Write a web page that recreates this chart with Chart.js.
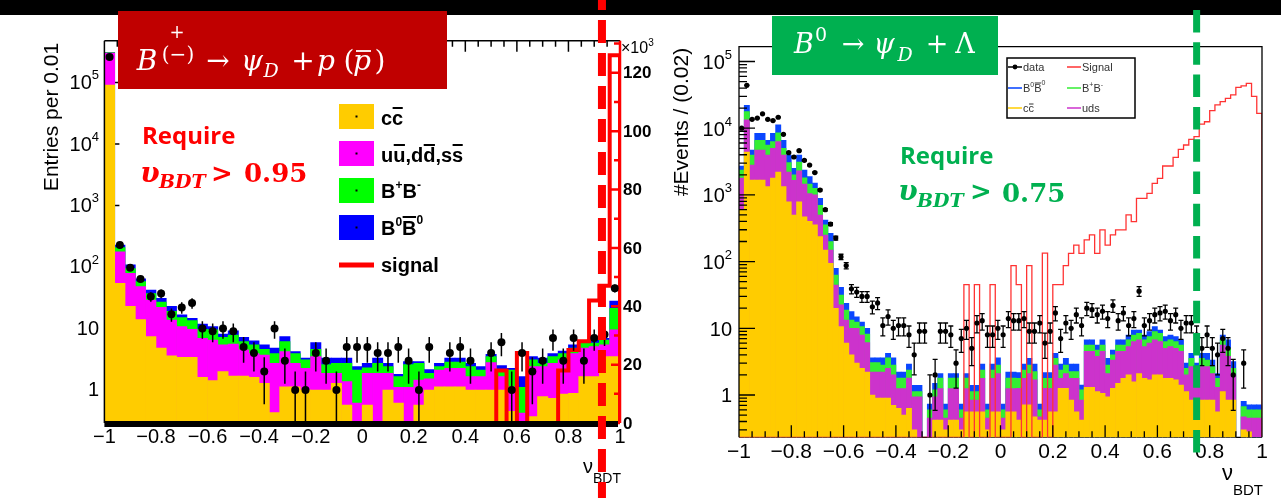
<!DOCTYPE html>
<html>
<head>
<meta charset="utf-8">
<title>BDT response</title>
<script src="https://cdn.jsdelivr.net/npm/chart.js@4.4.1/dist/chart.umd.min.js"></script>
<style>
  html, body { margin: 0; padding: 0; background: #fff; }
  body { width: 1281px; height: 498px; position: relative; overflow: hidden; }
  #topBar { position: absolute; left: 0; top: 0; width: 1281px; height: 15px; background: #000; }
  canvas { position: absolute; top: 0; }
  #leftChart { left: 0; }
  #rightChart { left: 640px; }
</style>
</head>
<body>
<div id="topBar"></div>
<canvas id="leftChart" width="660" height="498"></canvas>
<canvas id="rightChart" width="641" height="498"></canvas>
<script>
// B(-)+ -> psi_D + p : 50 bins of 0.04 in nu_BDT
// each stack array holds the upper edge of that layer (cc, +uds, +B+B-, +B0B0bar)
const leftCc = [
  91000, 54, 23, 14, 7.4, 4.8, 3.6, 3.4, 3.4, 1.6,
  1.42, 2.0, 1.69, 1.69, 1.6, 1.28, 0.43, 1.13, 1.13, 1.0,
  1.0, 1.0, 1.28, 0.57, 0, 0.57, 0, 1.0, 0.61, 0,
  0.57, 1.0, 1.13, 1.13, 1.13, 1.0, 1.0, 1.0, 1.0, 0.45,
  0, 0.37, 0.78, 0.73, 0.86, 0.88, 1.65, 1.65, 3.5, 3.5
];
const leftUds = [
  300000, 177, 79, 48, 29, 22, 13.7, 10.7, 9.7, 6.9,
  6.5, 5.4, 5.6, 4.5, 3.9, 3.7, 2.7, 4.2, 2.7, 2.25,
  3.5, 1.87, 1.87, 1.37, 0.61, 1.87, 1.87, 1.87, 1.1, 1.1,
  1.45, 1.52, 2.1, 2.25, 2.25, 1.65, 1.65, 2.8, 1.65, 1.13,
  0.42, 2.4, 2.4, 2.7, 3.1, 3.9, 4.8, 5.1, 5.4, 9.5
];
const leftBpm = [
  305000, 206, 94, 58, 37, 27, 19, 15, 13.4, 9.7,
  9.5, 7.2, 7.8, 6.1, 5.4, 4.6, 3.9, 6.1, 3.9, 3.1,
  4.6, 2.6, 2.7, 2.7, 2.1, 2.3, 2.7, 2.4, 1.65, 2.6,
  2.7, 1.87, 2.4, 2.85, 2.85, 2.4, 2.1, 3.5, 2.1, 2.1,
  1.1, 3.1, 2.7, 3.5, 3.9, 4.8, 5.8, 5.8, 6.5, 21.3
];
const leftB0 = [
  310000, 228, 108, 64, 42, 31, 23, 16.6, 14.6, 11.8,
  10.7, 8.1, 9.2, 7.2, 6.3, 5.4, 4.8, 7.4, 4.2, 3.3,
  5.9, 3.3, 3.3, 3.3, 2.4, 2.7, 3.3, 2.7, 1.8, 2.9,
  2.9, 2.15, 2.7, 3.3, 3.3, 2.7, 2.4, 3.8, 2.5, 2.25,
  1.65, 3.5, 3.3, 3.9, 4.3, 5.4, 6.4, 6.5, 6.9, 28
];
const leftData = [
  260000, 228, 97, 64, 33, 37, 17, 22, 26, 10,
  9, 10, 9, 5, 4, 2, 10, 3, 1, 1,
  4, 3, 1, 5, 5, 5, 4, 4, 5, 3,
  1, 5, 0, 4, 5, 3, 0, 4, 6, 1,
  4, 2, 3, 7, 3, 7, 3, 7, 8, 45
];
// signal in units of 10^3 on the right-hand axis
const leftSignal = [
  0, 0, 0, 0, 0, 0, 0, 0, 0, 0,
  0, 0, 0, 0, 0, 0, 0, 0, 0, 0,
  0, 0, 0, 0, 0, 0, 0, 0, 0, 0,
  0, 0, 0, 0, 0, 0, 0, 0, 18, 0,
  24, 0, 0, 0, 18, 25, 28, 42, 47, 126
];
const leftCut = 0.93;
const leftYMin = 0.2905, leftYMax = 478000;

// B0 -> psi_D + Lambda : 100 bins of 0.02
const rightCc = [
  590, 4400, 1670, 1670, 1670, 1330, 1780, 2200, 1330, 790,
  500, 790, 470, 400, 355, 237, 149, 94, 20, 10.6,
  6, 4, 3, 2.5, 2.2, 1.0, 0.9, 0.9, 0.9, 0.7,
  0.63, 0.5, 0.63, 0.3, 0, 0, 0, 0.42, 0.42, 0.3,
  0.42, 0.42, 0.3, 0.56, 0.56, 0.56, 0.56, 0.3, 0.56, 0.56,
  0.3, 0.56, 0.56, 0.42, 0.71, 0.71, 0.47, 0.42, 0.42, 0.56,
  0.56, 1.26, 1.26, 0.84, 0.56, 0.42, 1.3, 1.3, 1.12, 1.06,
  0.94, 1.26, 1.5, 1.78, 2.0, 1.58, 2.1, 1.78, 1.68, 2.0,
  2.0, 1.78, 1.78, 1.68, 1.41, 1.12, 0.84, 0.84, 0.84, 0.84,
  0.84, 0.56, 1.12, 0.84, 0.84, 0, 0.3, 0.28, 0, 0
];
const rightUds = [
  1780, 13300, 2800, 4700, 4700, 3960, 5000, 6300, 3960, 2200,
  1650, 2300, 1450, 1050, 1000, 500, 250, 149, 44.5, 22.4,
  13.3, 10, 10, 7.9, 6.1, 2.2, 2.2, 2.2, 2.5, 2.0,
  1.25, 1.25, 1.8, 0.94, 0.94, 0, 0.45, 0.94, 1.25, 0.45,
  1.25, 1.25, 0.45, 1.25, 0.84, 0.84, 1.78, 0.45, 1.78, 2.1,
  0.45, 1.25, 1.25, 1.26, 1.78, 2.1, 1.68, 0.47, 1.26, 1.26,
  2.8, 1.78, 2.1, 1.78, 1.78, 0.84, 4.5, 4.5, 3.8, 4.5,
  2.1, 3.35, 4.5, 4.5, 5.3, 6.3, 6.7, 5.3, 6.0, 6.7,
  6.3, 5.0, 5.3, 5.0, 4.5, 2.0, 2.66, 2.0, 2.66, 2.66,
  2.1, 1.3, 5.6, 3.8, 2.0, 0, 0.47, 0.45, 0.45, 0.45
];
const rightBpm = [
  2360, 17700, 3960, 6600, 6600, 5600, 6300, 8500, 5000, 3050,
  2000, 3100, 1800, 1450, 1250, 700, 355, 199, 63, 31.6,
  18.8, 13.3, 12.4, 10.6, 8.2, 3.05, 3.05, 2.8, 3.6, 2.8,
  1.8, 1.8, 2.37, 1.12, 1.12, 0, 0.6, 1.19, 1.8, 0.6,
  1.8, 1.8, 0.6, 1.8, 1.12, 1.12, 2.37, 0.6, 2.37, 2.8,
  0.6, 1.8, 1.8, 1.78, 2.37, 2.8, 2.24, 0.6, 1.78, 1.78,
  3.55, 2.37, 2.8, 2.24, 2.24, 1.19, 5.6, 5.6, 4.7, 5.6,
  2.8, 4.0, 5.6, 5.6, 6.7, 7.9, 8.4, 6.7, 7.5, 8.9,
  8.4, 6.3, 6.7, 6.3, 5.6, 2.5, 3.55, 2.5, 3.55, 3.35,
  2.66, 1.78, 6.7, 5.0, 2.5, 0, 0.67, 0.6, 0.6, 0.6
];
const rightB0 = [
  2700, 22000, 4700, 8400, 8400, 6600, 8400, 11200, 6600, 3960,
  2500, 3960, 2360, 1880, 1500, 890, 420, 265, 79, 41,
  23.7, 17.8, 14.9, 12.4, 10, 3.6, 3.6, 3.6, 4.2, 3.6,
  2.2, 2.2, 2.9, 1.4, 1.4, 0, 0.73, 1.5, 2.1, 0.73,
  2.1, 2.1, 0.73, 2.1, 1.4, 1.4, 2.9, 0.73, 2.9, 3.6,
  0.73, 2.2, 2.2, 2.16, 2.9, 3.55, 2.9, 0.73, 2.16, 2.16,
  4.2, 2.9, 3.55, 2.9, 2.9, 1.41, 6.7, 6.7, 5.6, 6.7,
  3.55, 4.7, 6.7, 6.7, 7.9, 9.4, 9.4, 7.9, 8.9, 10.6,
  9.4, 7.5, 7.9, 7.5, 6.7, 3.0, 4.2, 3.0, 4.2, 4.2,
  3.35, 2.1, 7.9, 6.7, 3.16, 0, 0.8, 0.71, 0.71, 0.71
];
const rightData = [
  10000, 44000, 13600, 14200, 16400, 13600, 13000, 14600, 8100, 4300,
  3700, 4600, 3300, 2800, 2160, 1180, 600, 365, 225, 118,
  87, 39, 35, 30, 30, 21, 24, 11, 15, 10,
  11, 11, 8, 4, 9, 9, 1, 2, 9, 9,
  8, 3, 7, 10, 5, 12, 13, 8, 8, 10,
  8, 14, 13, 13, 14, 9, 9, 12, 6, 9,
  17, 7, 12, 10, 16, 11, 20, 19, 16, 18,
  14, 22, 13, 17, 11, 14, 36, 11, 13, 16,
  17, 18, 13, 16, 10, 12, 12, 8, 5, 8,
  5, 4, 7, 5, 2, 0, 3, 0, 0, 0
];
const rightSignal = [
  0, 0, 0, 0, 0, 0, 0, 0, 0, 0,
  0, 0, 0, 0, 0, 0, 0, 0, 0, 0,
  0, 0, 0, 0, 0, 0, 0, 0, 0, 0,
  0, 0, 0, 0, 0, 0, 0, 0, 0, 0,
  0, 0, 0, 45, 0, 45, 0, 0, 45, 0,
  0, 0, 87, 45, 0, 87, 0, 0, 134, 0,
  45, 45, 87, 133, 177, 133, 211, 251, 133, 298,
  177, 251, 298, 298, 500, 397, 888, 888, 1055, 1490,
  1770, 2710, 2710, 3650, 4820, 5600, 6800, 7500, 11500, 12500,
  18300, 22300, 25000, 28000, 31500, 41000, 43000, 47000, 30000, 16700
];
const rightCut = 0.75;
const rightYMin = 0.232, rightYMax = 166700;

const xTicks = [-1, -0.8, -0.6, -0.4, -0.2, 0, 0.2, 0.4, 0.6, 0.8, 1];
const decades = [1, 10, 100, 1000, 10000, 100000];
const sigTicks = [0, 20, 40, 60, 80, 100, 120];

const SANS = '"Liberation Sans", Arial, sans-serif';
const SERIF = '"DejaVu Serif", serif';

function binCenters(n) {
  const w = 2 / n;
  return Array.from({ length: n }, (_, i) => -1 + w * (i + 0.5));
}
const leftX = binCenters(leftData.length);
const rightX = binCenters(rightData.length);

function barSet(values, centers, color, order) {
  return {
    type: 'bar',
    data: values.map((v, i) => ({ x: centers[i], y: v > 0 ? v : null })),
    backgroundColor: color,
    borderWidth: 0,
    barPercentage: 1,
    categoryPercentage: 1,
    grouped: false,
    xAxisID: 'x',
    yAxisID: 'y',
    order
  };
}

function pointSet(values, centers, radius) {
  return {
    type: 'scatter',
    data: values.map((v, i) => ({ x: centers[i], y: v })).filter(p => p.y > 0),
    backgroundColor: '#000',
    borderWidth: 0,
    pointRadius: radius,
    xAxisID: 'x',
    yAxisID: 'y',
    order: 0
  };
}

// outline histogram: one point per left bin edge, closed down to the floor at x = 1;
// empty bins sit on the floor so a log axis keeps the line unbroken
function stepSet(values, color, width, axis, floor) {
  const w = 2 / values.length;
  const pts = values.map((v, i) => ({ x: -1 + w * i, y: v > 0 ? v : floor }));
  pts.push({ x: 1, y: pts[pts.length - 1].y }, { x: 1, y: floor });
  return {
    type: 'line',
    data: pts,
    borderColor: color,
    borderWidth: width,
    pointRadius: 0,
    fill: false,
    stepped: 'before',
    xAxisID: 'x',
    yAxisID: axis,
    order: 1
  };
}

function label(ctx, str, x, y, font, color, align, baseline) {
  ctx.font = font;
  ctx.fillStyle = color || '#000';
  ctx.textAlign = align || 'left';
  ctx.textBaseline = baseline || 'alphabetic';
  ctx.fillText(str, x, y);
  return ctx.measureText(str).width;
}

function hline(ctx, x1, x2, y, w, color) {
  ctx.strokeStyle = color;
  ctx.lineWidth = w;
  ctx.beginPath();
  ctx.moveTo(x1, y);
  ctx.lineTo(x2, y);
  ctx.stroke();
}

// text pieces drawn one after another: [text, font, raise, overline height]
function pieces(ctx, x, y, list, color, barW) {
  for (const [s, font, raise = 0, ol = 0] of list) {
    const w = label(ctx, s, x, y - raise, font, color);
    if (ol) hline(ctx, x + 0.5, x + w - 0.5, y - ol, barW, color);
    x += w;
  }
  return x;
}

function decadeLabel(ctx, v, xr, py, big, small, lift) {
  const n = Math.round(Math.log10(v));
  if (n < 2) {
    label(ctx, String(v), xr, py, big, '#000', 'right', 'middle');
    return;
  }
  ctx.font = small;
  const w = ctx.measureText(String(n)).width;
  label(ctx, String(n), xr, py - lift, small, '#000', 'right', 'middle');
  label(ctx, '10', xr - w, py, big, '#000', 'right', 'middle');
}

function tickText(t) {
  if (t === 0) return '0';
  return (t < 0 ? '\u2212' : '') + Math.abs(t);
}

function drawErrors(chart, values, centers, cap, width) {
  const { ctx, chartArea: a, scales: { x, y } } = chart;
  ctx.save();
  ctx.strokeStyle = '#000';
  ctx.lineWidth = width;
  ctx.beginPath();
  values.forEach((n, i) => {
    if (n <= 0) return;
    const e = Math.sqrt(n);
    const px = x.getPixelForValue(centers[i]);
    const top = Math.max(a.top, y.getPixelForValue(n + e));
    const low = n - e > y.min;
    const bot = low ? y.getPixelForValue(n - e) : a.bottom;
    ctx.moveTo(px, top);
    ctx.lineTo(px, bot);
    if (cap) {
      ctx.moveTo(px - cap, top);
      ctx.lineTo(px + cap, top);
      if (low) {
        ctx.moveTo(px - cap, bot);
        ctx.lineTo(px + cap, bot);
      }
    }
  });
  ctx.stroke();
  ctx.restore();
}

function cutLine(ctx, px, y0, y1, color, width, dash, phase) {
  ctx.save();
  ctx.strokeStyle = color;
  ctx.lineWidth = width;
  ctx.setLineDash(dash);
  ctx.lineDashOffset = phase || 0;
  ctx.beginPath();
  ctx.moveTo(px, y0);
  ctx.lineTo(px, y1);
  ctx.stroke();
  ctx.restore();
}

function rotated(ctx, str, x, y, font) {
  ctx.save();
  ctx.translate(x, y);
  ctx.rotate(-Math.PI / 2);
  label(ctx, str, 0, 0, font, '#000', 'center', 'alphabetic');
  ctx.restore();
}

// ---------- left panel decorations ----------
const leftDecor = {
  id: 'leftDecor',
  beforeDatasetsDraw(chart) {
    const { ctx, chartArea: a, scales: { y } } = chart;
    ctx.save();
    ctx.strokeStyle = '#000';
    ctx.lineWidth = 1.5;
    ctx.beginPath();
    decades.forEach(v => {
      const py = y.getPixelForValue(v);
      ctx.moveTo(a.left, py);
      ctx.lineTo(a.left + 15, py);
    });
    ctx.stroke();
    ctx.restore();
  },
  afterDraw(chart) {
    const { ctx, chartArea: a, scales: { x, y, ySig } } = chart;
    drawErrors(chart, leftData, leftX, 0, 1.5);
    ctx.save();

    // frame: top edge with ticks, left edge
    ctx.strokeStyle = '#000';
    ctx.lineWidth = 1.5;
    ctx.beginPath();
    ctx.moveTo(a.left, a.top);
    ctx.lineTo(a.right, a.top);
    ctx.moveTo(a.left, a.top);
    ctx.lineTo(a.left, a.bottom);
    for (let k = 0; k <= 40; k++) {
      const px = x.getPixelForValue(-1 + k * 0.05);
      ctx.moveTo(px, a.top);
      ctx.lineTo(px, a.top + (k % 4 === 0 ? 11 : 6));
    }
    ctx.stroke();

    // signal axis on the right
    ctx.strokeStyle = '#FF0000';
    ctx.lineWidth = 2.5;
    ctx.beginPath();
    ctx.moveTo(a.right, a.top);
    ctx.lineTo(a.right, a.bottom);
    for (let v = 0; v <= 130; v += 10) {
      const py = ySig.getPixelForValue(v);
      ctx.moveTo(a.right, py);
      ctx.lineTo(a.right - (v % 20 ? 6 : 9), py);
    }
    ctx.stroke();

    // thick bottom axis
    ctx.fillStyle = '#000';
    ctx.fillRect(a.left, a.bottom - 2, a.right - a.left - 2, 6);

    xTicks.forEach(t => label(ctx, tickText(t), x.getPixelForValue(t), 437, '20px ' + SANS, '#000', 'center', 'middle'));
    decades.forEach(v => decadeLabel(ctx, v, 99, y.getPixelForValue(v) + 1, '20px ' + SANS, '13px ' + SANS, 8));
    sigTicks.forEach(v => label(ctx, String(v), a.right + 3, ySig.getPixelForValue(v) + 1, 'bold 17px ' + SANS, '#000', 'left', 'middle'));
    const px = label(ctx, '\u00d710', a.right + 1, 53, '16px ' + SANS, '#000');
    label(ctx, '3', a.right + 1 + px, 46, '10px ' + SANS, '#000');

    rotated(ctx, 'Entries per 0.01', 58, 117, '21px ' + SANS);
    label(ctx, '\u03bd', 583, 473, '20px ' + SANS, '#000');
    label(ctx, 'BDT', 593, 483, '14px ' + SANS, '#000');

    // decay title
    ctx.fillStyle = '#C00000';
    ctx.fillRect(118, 11, 329, 78);
    const W = '#fff';
    label(ctx, 'B', 147, 70, 'italic 28px ' + SERIF, W, 'center');
    label(ctx, '(\u2212)', 178, 61, '20px ' + SERIF, W, 'center');
    label(ctx, '+', 177, 38, '18px ' + SERIF, W, 'center');
    label(ctx, '\u2192', 218, 70, '28px ' + SERIF, W, 'center');
    label(ctx, '\u03c8', 252, 70, 'italic 28px ' + SERIF, W, 'center');
    label(ctx, 'D', 271, 77, 'italic 19px ' + SERIF, W, 'center');
    label(ctx, '+', 303, 70, '28px ' + SERIF, W, 'center');
    label(ctx, 'p', 326, 70, 'italic 28px ' + SERIF, W, 'center');
    label(ctx, '(', 349, 70, '28px ' + SERIF, W, 'center');
    label(ctx, 'p', 362, 70, 'italic 28px ' + SERIF, W, 'center');
    hline(ctx, 356, 371, 51, 1.8, W);
    label(ctx, ')', 380, 70, '28px ' + SERIF, W, 'center');

    // selection note
    const R = '#FF0000';
    label(ctx, 'Require', 142, 144, 'bold 24px "Open Sans", sans-serif', R);
    label(ctx, '\u03c5', 150, 182, 'italic bold 28px ' + SERIF, R, 'center');
    label(ctx, 'BDT', 159, 188, 'italic bold 19px ' + SERIF, R);
    label(ctx, '>', 222, 182, 'bold 26px ' + SERIF, R, 'center');
    label(ctx, '0.95', 244, 182, 'bold 26px ' + SERIF, R);

    // legend
    const LB = 'bold 20px ' + SANS, LS = 'bold 12px ' + SANS;
    const keys = [
      ['#FFCC00', 104, 125, [['c', LB], ['c', LB, 0, 17]]],
      ['#FF00FF', 141, 162, [['u', LB], ['u', LB, 0, 17], [',d', LB], ['d', LB, 0, 17], [',s', LB], ['s', LB, 0, 17]]],
      ['#00FF00', 178, 198, [['B', LB], ['+', LS, 9], ['B', LB], ['-', LS, 9]]],
      ['#0000FF', 215, 235, [['B', LB], ['0', LS, 9], ['B', LB, 0, 18], ['0', LS, 11]]]
    ];
    keys.forEach(([color, top, base, text]) => {
      ctx.fillStyle = color;
      ctx.fillRect(339, top, 35, 25);
      ctx.fillStyle = '#000';
      ctx.fillRect(355.5, top + 11.5, 2, 2);
      pieces(ctx, 381, base, text, '#000', 2);
    });
    hline(ctx, 339, 374, 265, 5, '#FF0000');
    label(ctx, 'signal', 381, 272, LB, '#000');

    ctx.restore();
    cutLine(ctx, x.getPixelForValue(leftCut), -13, 498, '#FF0000', 8, [23, 10]);
  }
};

// ---------- right panel decorations ----------
const rightDecor = {
  id: 'rightDecor',
  beforeDatasetsDraw(chart) {
    const { ctx, chartArea: a } = chart;
    hline(ctx, a.left, a.right, a.bottom, 1.2, '#000');
  },
  afterDraw(chart) {
    const { ctx, chartArea: a, scales: { x, y } } = chart;
    drawErrors(chart, rightData, rightX, 2.5, 1.3);
    ctx.save();

    ctx.strokeStyle = '#000';
    ctx.lineWidth = 1.3;
    ctx.beginPath();
    ctx.moveTo(a.left, a.bottom);
    ctx.lineTo(a.left, a.top);
    ctx.lineTo(a.right, a.top);
    ctx.lineTo(a.right, a.bottom);
    // log ticks on the left edge
    for (let e = -1; e <= 5; e++) {
      for (let m = 1; m <= 9; m++) {
        const v = m * Math.pow(10, e);
        if (v < y.min || v > y.max) continue;
        const py = y.getPixelForValue(v);
        ctx.moveTo(a.left, py);
        ctx.lineTo(a.left + (m === 1 ? 16 : 8), py);
      }
    }
    // ticks along the bottom
    for (let k = 0; k <= 40; k++) {
      const px = x.getPixelForValue(-1 + k * 0.05);
      ctx.moveTo(px, a.bottom);
      ctx.lineTo(px, a.bottom - (k % 4 === 0 ? 12 : 6));
    }
    ctx.stroke();

    xTicks.forEach(t => label(ctx, tickText(t), x.getPixelForValue(t), 452, '21px ' + SANS, '#000', 'center', 'middle'));
    decades.forEach(v => decadeLabel(ctx, v, 92, y.getPixelForValue(v) + 2, '20px ' + SANS, '13px ' + SANS, 8));
    rotated(ctx, '#Events / (0.02)', 48, 122, '21px ' + SANS);
    label(ctx, '\u03bd', 582, 480, '22px ' + SANS, '#000');
    label(ctx, 'BDT', 593, 495, '15px ' + SANS, '#000');

    // decay title
    ctx.fillStyle = '#00B050';
    ctx.fillRect(132, 16, 226, 59);
    const W = '#fff';
    label(ctx, 'B', 164, 53, 'italic 27px ' + SERIF, W, 'center');
    label(ctx, '0', 181, 41, '19px ' + SERIF, W, 'center');
    label(ctx, '\u2192', 213, 53, '27px ' + SERIF, W, 'center');
    label(ctx, '\u03c8', 244, 53, 'italic 27px ' + SERIF, W, 'center');
    label(ctx, 'D', 265, 61, 'italic 19px ' + SERIF, W, 'center');
    label(ctx, '+', 297, 53, '27px ' + SERIF, W, 'center');
    label(ctx, '\u039b', 325, 53, '27px ' + SERIF, W, 'center');

    const G = '#00B050';
    label(ctx, 'Require', 260, 164, 'bold 24px "Open Sans", sans-serif', G);
    label(ctx, '\u03c5', 268, 200, 'italic bold 28px ' + SERIF, G, 'center');
    label(ctx, 'BDT', 277, 207, 'italic bold 19px ' + SERIF, G);
    label(ctx, '>', 341, 200, 'bold 26px ' + SERIF, G, 'center');
    label(ctx, '0.75', 362, 202, 'bold 26px ' + SERIF, G);

    // legend box
    ctx.fillStyle = '#fff';
    ctx.fillRect(367, 58, 128, 60);
    ctx.strokeStyle = '#000';
    ctx.lineWidth = 1.5;
    ctx.strokeRect(367, 58, 128, 60);
    const RF = '11px ' + SANS, RS = '7px ' + SANS, T = '#333';
    const entries = [
      [368, 67, '#000', [['data', RF]], true],
      [427, 67, '#FF3333', [['Signal', RF]]],
      [368, 88, '#0040FF', [['B', RF], ['0', RS, 5], ['B', RF, 0, 9], ['0', RS, 7]]],
      [427, 88, '#33EE33', [['B', RF], ['+', RS, 5], ['B', RF], ['-', RS, 5]]],
      [368, 108, '#FFCC00', [['c', RF], ['c', RF, 0, 8]]],
      [427, 108, '#CC33CC', [['uds', RF]]]
    ];
    entries.forEach(([lx, ly, color, text, dot]) => {
      hline(ctx, lx, lx + 14, ly, 1.5, color);
      if (dot) {
        ctx.fillStyle = color;
        ctx.beginPath();
        ctx.arc(lx + 7, ly, 2.4, 0, Math.PI * 2);
        ctx.fill();
      }
      pieces(ctx, lx + 15, ly + 4, text, T, 1);
    });

    ctx.restore();
    // dashes start at y = 10 and repeat every 32.3 px
    cutLine(ctx, x.getPixelForValue(rightCut), 10, 460, '#00B050', 7, [22.5, 9.8], 0);
  }
};

Chart.defaults.animation = false;

new Chart(document.getElementById('leftChart'), {
  type: 'bar',
  data: {
    datasets: [
      pointSet(leftData, leftX, 4),
      stepSet(leftSignal, '#FF0000', 4, 'ySig', 0),
      barSet(leftCc, leftX, '#FFCC00', 2),
      barSet(leftUds, leftX, '#FF00FF', 3),
      barSet(leftBpm, leftX, '#00FF00', 4),
      barSet(leftB0, leftX, '#0000FF', 5)
    ]
  },
  options: {
    responsive: false,
    devicePixelRatio: 1,
    layout: { padding: { left: 104.4, right: 40, top: 40.7, bottom: 75 } },
    scales: {
      x: { type: 'linear', min: -1, max: 1, offset: false, bounds: 'data', display: false, stacked: false },
      y: { type: 'logarithmic', min: leftYMin, max: leftYMax, bounds: 'data', display: false, stacked: false },
      ySig: { type: 'linear', position: 'right', min: 0, max: 131, bounds: 'data', display: false }
    },
    plugins: { legend: { display: false }, tooltip: { enabled: false } }
  },
  plugins: [leftDecor]
});

new Chart(document.getElementById('rightChart'), {
  type: 'bar',
  data: {
    datasets: [
      pointSet(rightData, rightX, 2.6),
      stepSet(rightSignal, '#FF3333', 1.3, 'y', rightYMin),
      barSet(rightCc, rightX, '#FFCC00', 2),
      barSet(rightUds, rightX, '#CC33CC', 3),
      barSet(rightBpm, rightX, '#33EE33', 4),
      barSet(rightB0, rightX, '#0A46FF', 5)
    ]
  },
  options: {
    responsive: false,
    devicePixelRatio: 1,
    layout: { padding: { left: 99, right: 19, top: 46.7, bottom: 60.7 } },
    scales: {
      x: { type: 'linear', min: -1, max: 1, offset: false, bounds: 'data', display: false, stacked: false },
      y: { type: 'logarithmic', min: rightYMin, max: rightYMax, bounds: 'data', display: false, stacked: false }
    },
    plugins: { legend: { display: false }, tooltip: { enabled: false } }
  },
  plugins: [rightDecor]
});
</script>
</body>
</html>
